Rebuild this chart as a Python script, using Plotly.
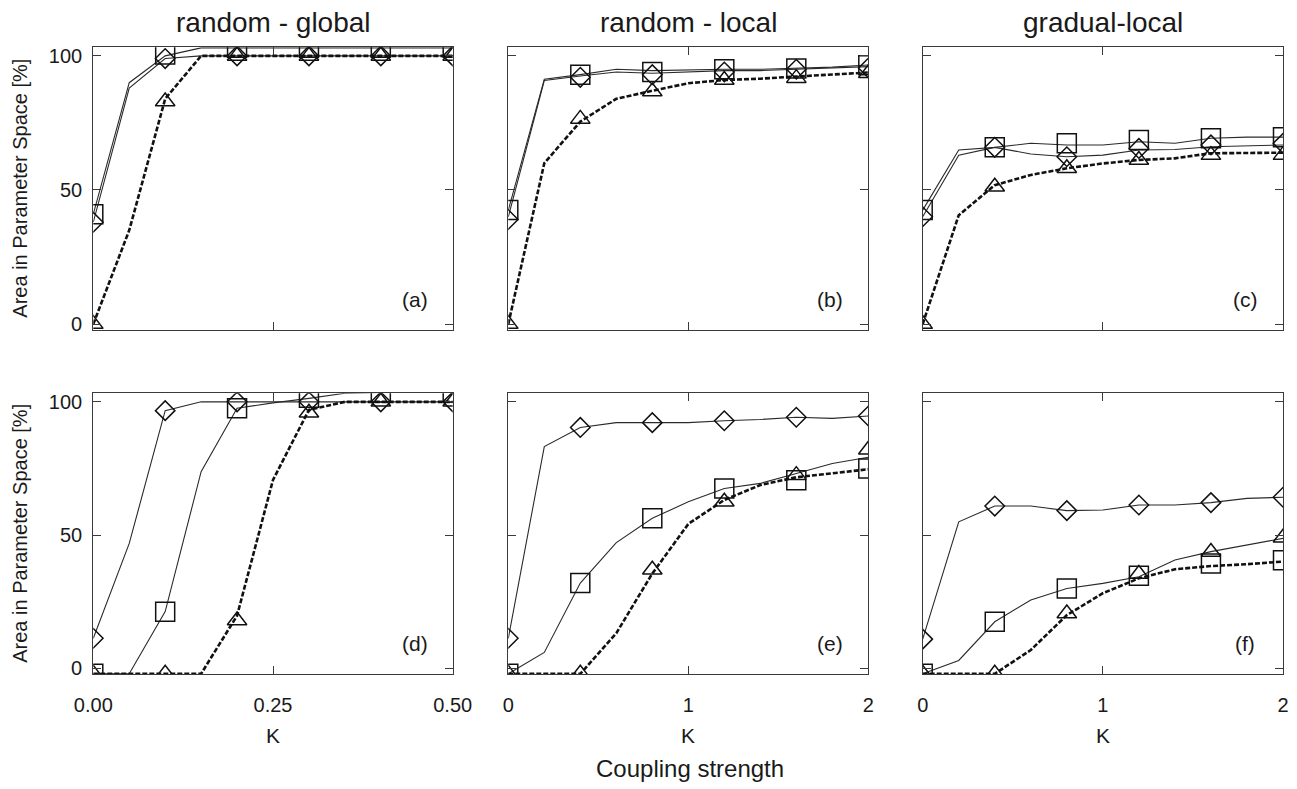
import plotly.graph_objects as go

W, H = 1297, 789

# ---------------- data ----------------
K_GLOBAL = [0.00, 0.05, 0.10, 0.15, 0.20, 0.25, 0.30, 0.35, 0.40, 0.45, 0.50]
K_LOCAL = [0.0, 0.2, 0.4, 0.6, 0.8, 1.0, 1.2, 1.4, 1.6, 1.8, 2.0]
K_GLOBAL_MK = [0.0, 0.1, 0.2, 0.3, 0.4, 0.5]
K_LOCAL_MK = [0.0, 0.4, 0.8, 1.2, 1.6, 2.0]

# (a) random - global, top row
a_sq = [41, 90, 100, 103, 103, 103, 103, 103, 103, 103, 103]
a_di = [38, 88, 99, 100, 100, 100, 100, 100, 100, 100, 100]
a_tr = [0, 35, 84, 100, 100, 100, 100, 100, 100, 100, 100]
a_sq_mk = [41, 100.5, 103, 103, 103, 103]
a_di_mk = [38, 99, 100, 100, 100, 100]
a_tr_mk = [0, 83, 100, 100, 100, 100]

# (b) random - local, top row
b_sq = [42.5, 91.3, 93, 95, 94.5, 94.8, 95, 95, 95.4, 95.8, 96.6]
b_di = [40, 90.8, 92.5, 94, 93.5, 94, 94.5, 94.5, 95, 95.5, 96]
b_tr = [0, 60, 75.5, 84, 87, 89.8, 91, 91.5, 92.3, 93, 93.8]
b_sq_mk = [42.5, 93, 94, 95, 95.3, 96.5]
b_di_mk = [39, 92, 93, 94, 95, 95.5]
b_tr_mk = [0, 76.5, 86.7, 91, 91.7, 93.5]

# (c) gradual-local, top row
c_sq = [42.5, 64.9, 65.9, 67.4, 66.8, 66.8, 68.0, 67.4, 69.3, 69.7, 69.7]
c_di = [40, 63, 65.9, 63.4, 62.4, 63, 64.9, 65.1, 66.1, 66.4, 66.8]
c_tr = [0, 40.6, 51.8, 55.6, 58.1, 59.9, 61.2, 61.8, 63.7, 63.9, 63.9]
c_sq_mk = [42.5, 65.9, 67.4, 68.6, 69.3, 69.7]
c_di_mk = [40, 65.9, 62.4, 65.5, 66.8, 67.4]
c_tr_mk = [0, 51.2, 58.1, 61.2, 63, 63]

# (d) random - global, bottom row
d_sq = [-2, -2, 21.3, 73.8, 97.6, 99.6, 101.3, 103.2, 103.5, 103.5, 103.5]
d_di = [11.3, 46.9, 96.7, 100, 100, 100, 100, 100, 100, 100, 100]
d_tr = [-2, -2, -2, -2, 19.8, 70.7, 97, 100, 100, 100, 100]
d_sq_mk = [-2, 21.3, 97.6, 101.5, 103.5, 103.5]
d_di_mk = [11.3, 96.7, 100, 100, 100, 100]
d_tr_mk = [-2, -2, 18, 95.9, 100, 100]

# (e) random - local, bottom row
e_sq = [-2, 6, 32, 47.2, 56.3, 62.5, 67.5, 69.4, 73.1, 76.9, 79.2]
e_di = [11.3, 83.2, 90.4, 92.2, 92.2, 92.2, 92.9, 93.4, 94.2, 93.8, 94.7]
e_tr = [-2, -2, -2, 13.2, 35.6, 54.2, 63.2, 68.8, 71.7, 73.2, 74.7]
e_sq_mk = [-2, 32, 56.3, 67.5, 70.6, 75]
e_di_mk = [11.3, 90.4, 92.2, 92.9, 94.2, 94.7]
e_tr_mk = [-2, -2, 37, 62.5, 72.5, 82]

# (f) gradual-local, bottom row
f_sq = [-2, 3, 17.5, 25.7, 30, 31.9, 34.4, 40.7, 43.8, 46.3, 48.8]
f_di = [11, 55, 60.9, 60.9, 59.2, 59.4, 61.3, 61.3, 62.2, 63.8, 64.2]
f_tr = [-2, -2, -2, 6.9, 20, 28.2, 33.8, 37.2, 38.4, 39.1, 40.1]
f_sq_mk = [-2, 17.5, 30, 34.8, 39.4, 40.6]
f_di_mk = [11, 60.9, 59.2, 61.3, 62.2, 64.2]
f_tr_mk = [-2, -2, 20.6, 35.4, 43.7, 49]

COL_TITLES = ["random - global", "random - local", "gradual-local"]
PANEL_LABELS = ["(a)", "(b)", "(c)", "(d)", "(e)", "(f)"]
GLOBAL_TICKS = [0, 0.25, 0.5]
GLOBAL_TICKTEXT = ["0.00", "0.25", "0.50"]
LOCAL_TICKS = [0, 1, 2]
LOCAL_TICKTEXT = ["0", "1", "2"]
Y_TICKS = [0, 50, 100]
Y_TICKTEXT = ["0", "50", "100"]

panels = [
    (K_GLOBAL, K_GLOBAL_MK, a_sq, a_di, a_tr, a_sq_mk, a_di_mk, a_tr_mk),
    (K_LOCAL, K_LOCAL_MK, b_sq, b_di, b_tr, b_sq_mk, b_di_mk, b_tr_mk),
    (K_LOCAL, K_LOCAL_MK, c_sq, c_di, c_tr, c_sq_mk, c_di_mk, c_tr_mk),
    (K_GLOBAL, K_GLOBAL_MK, d_sq, d_di, d_tr, d_sq_mk, d_di_mk, d_tr_mk),
    (K_LOCAL, K_LOCAL_MK, e_sq, e_di, e_tr, e_sq_mk, e_di_mk, e_tr_mk),
    (K_LOCAL, K_LOCAL_MK, f_sq, f_di, f_tr, f_sq_mk, f_di_mk, f_tr_mk),
]

# ---------------- layout geometry (pixels) ----------------
COL_X = [(93.3, 452.7), (508.3, 868.3), (922.7, 1283.0)]
ROW_Y = [(47.3, 330.0), (393.3, 674.3)]
Y_RANGE = [-2.2, 103.2]

FONT = "Liberation Sans, Arial, Helvetica, sans-serif"
AX_COLOR = "#3a3a3a"
MK_COLOR = "#111111"
THIN = dict(color="#2a2a2a", width=1.1)
THICK = dict(color="#111111", width=2.6, dash="5px,2px")

fig = go.Figure()

for i, (xl, xm, sq, di, tr, sqm, dim, trm) in enumerate(panels):
    ax = "" if i == 0 else str(i + 1)
    xa, ya = "x" + ax, "y" + ax
    fig.add_trace(go.Scatter(x=xl, y=di, mode="lines", line=THIN, xaxis=xa, yaxis=ya,
                             showlegend=False, cliponaxis=True))
    fig.add_trace(go.Scatter(x=xl, y=sq, mode="lines", line=THIN, xaxis=xa, yaxis=ya,
                             showlegend=False, cliponaxis=True))
    fig.add_trace(go.Scatter(x=xl, y=tr, mode="lines", line=THICK, xaxis=xa, yaxis=ya,
                             showlegend=False, cliponaxis=True))
    fig.add_trace(go.Scatter(x=xm, y=dim, mode="markers", xaxis=xa, yaxis=ya, showlegend=False,
                             cliponaxis=True,
                             marker=dict(symbol="diamond-open", size=15, color=MK_COLOR,
                                         line=dict(color=MK_COLOR, width=1.5))))
    fig.add_trace(go.Scatter(x=xm, y=sqm, mode="markers", xaxis=xa, yaxis=ya, showlegend=False,
                             cliponaxis=True,
                             marker=dict(symbol="square-open", size=19, color=MK_COLOR,
                                         line=dict(color=MK_COLOR, width=1.5))))
    fig.add_trace(go.Scatter(x=xm, y=trm, mode="markers", xaxis=xa, yaxis=ya, showlegend=False,
                             cliponaxis=True,
                             marker=dict(symbol="triangle-up-open", size=17, color=MK_COLOR,
                                         line=dict(color=MK_COLOR, width=1.5))))

layout = dict(
    width=W, height=H,
    margin=dict(l=0, r=0, t=0, b=0, pad=0, autoexpand=False),
    paper_bgcolor="white", plot_bgcolor="white",
    font=dict(family=FONT, size=20, color="#1a1a1a"),
    showlegend=False,
)

for i in range(6):
    row, col = divmod(i, 3)
    ax = "" if i == 0 else str(i + 1)
    x0, x1 = COL_X[col]
    y0, y1 = ROW_Y[row]
    is_global = col == 0
    common = dict(showline=True, linecolor=AX_COLOR, linewidth=1.3, mirror="ticks",
                  ticks="inside", ticklen=8, tickwidth=1.2, tickcolor=AX_COLOR,
                  showgrid=False, zeroline=False, fixedrange=True, automargin=False,
                  tickfont=dict(family=FONT, size=20, color="#1a1a1a"))
    layout["xaxis" + ax] = dict(
        common,
        domain=[x0 / W, x1 / W],
        range=[0, 0.5] if is_global else [0, 2],
        tickvals=GLOBAL_TICKS if is_global else LOCAL_TICKS,
        ticktext=GLOBAL_TICKTEXT if is_global else LOCAL_TICKTEXT,
        showticklabels=(row == 1),
        ticklabelstandoff=13,
        anchor="y" + ax,
    )
    layout["yaxis" + ax] = dict(
        common,
        domain=[1 - y1 / H, 1 - y0 / H],
        range=Y_RANGE,
        tickvals=Y_TICKS,
        ticktext=Y_TICKTEXT,
        showticklabels=(col == 0),
        ticklabelstandoff=6,
        anchor="x" + ax,
    )

fig.update_layout(**layout)

ann = []
for col, t in enumerate(COL_TITLES):
    x0, x1 = COL_X[col]
    ann.append(dict(text=t, x=(x0 + x1) / 2 / W, y=1 - 22 / H, xref="paper", yref="paper",
                    showarrow=False, xanchor="center", yanchor="middle",
                    font=dict(family=FONT, size=28, color="#1a1a1a")))
    ann.append(dict(text="K", x=(x0 + x1) / 2 / W, y=1 - 735 / H, xref="paper", yref="paper",
                    showarrow=False, xanchor="center", yanchor="middle",
                    font=dict(family=FONT, size=21, color="#1a1a1a")))
for i, lab in enumerate(PANEL_LABELS):
    row, col = divmod(i, 3)
    x1 = COL_X[col][1]
    y1 = ROW_Y[row][1]
    ann.append(dict(text=lab, x=(x1 - 38) / W, y=1 - (y1 - 31) / H, xref="paper", yref="paper",
                    showarrow=False, xanchor="center", yanchor="middle",
                    font=dict(family=FONT, size=21, color="#1a1a1a")))
for row in range(2):
    y0, y1 = ROW_Y[row]
    ann.append(dict(text="Area in Parameter Space [%]", x=20 / W, y=1 - (y0 + y1) / 2 / H,
                    xref="paper", yref="paper", showarrow=False, textangle=-90,
                    xanchor="center", yanchor="middle",
                    font=dict(family=FONT, size=20, color="#1a1a1a")))
ann.append(dict(text="Coupling strength", x=690 / W, y=1 - 768 / H, xref="paper", yref="paper",
                showarrow=False, xanchor="center", yanchor="middle",
                font=dict(family=FONT, size=24, color="#1a1a1a")))
fig.update_layout(annotations=ann)

fig.write_html(
    "out.html",
    config={"displayModeBar": False},
    post_script="document.body.style.margin='0px';document.body.style.overflow='hidden';",
)
